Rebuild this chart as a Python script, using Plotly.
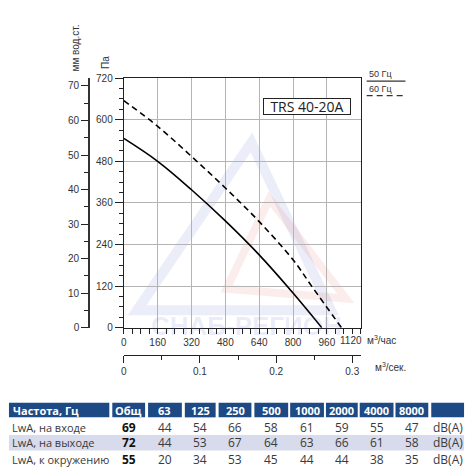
import plotly.graph_objects as go

W, H = 472, 476

# ---- data ----
flow_50 = [0, 160, 320, 480, 640, 800, 936]
pres_50 = [546, 480, 398, 308, 210, 100, 0]
flow_60 = [0, 160, 320, 480, 640, 800, 888, 1029]
pres_60 = [655, 581, 494, 403, 306, 196, 120, 0]

x_ticks = [0, 160, 320, 480, 640, 800, 960, 1120]
y_ticks = [0, 120, 240, 360, 480, 600, 720]
mm_ticks = [0, 10, 20, 30, 40, 50, 60, 70]
sec_ticks = [0, 0.1, 0.2, 0.3]

model = "TRS 40-20A"
tbl_header = ["Частота, Гц", "Общ", "63", "125", "250", "500", "1000", "2000", "4000", "8000", ""]
tbl_rows = ["LwA, на входе", "LwA, на выходе", "LwA, к окружению"]
tbl_total = [69, 72, 55]
tbl_vals = [
    [44, 54, 66, 58, 61, 59, 55, 47],
    [44, 53, 67, 64, 63, 66, 61, 58],
    [20, 34, 53, 45, 44, 44, 38, 35],
]
tbl_unit = "dB(A)"


def px(x):
    return x / W


def py(y):
    return 1 - y / H


X0, X1 = 121.6, 360.0
Y0, Y1 = 74.0, 330.0
FONT = "Liberation Sans, Arial, sans-serif"
TFONT = "Open Sans, sans-serif"
GRAY = "#333333"

fig = go.Figure()
fig.add_trace(go.Scatter(x=flow_50, y=pres_50, mode="lines",
                         line=dict(color="black", width=1.6, shape="spline", smoothing=1.0),
                         showlegend=False, hoverinfo="skip"))
fig.add_trace(go.Scatter(x=flow_60, y=pres_60, mode="lines",
                         line=dict(color="black", width=1.6, shape="spline", smoothing=1.0,
                                   dash="6px,4px"),
                         showlegend=False, hoverinfo="skip"))
# dummy traces for the secondary axes
fig.add_trace(go.Scatter(x=[0, 0.3], y=[None, None], xaxis="x2", yaxis="y", mode="lines",
                         showlegend=False, hoverinfo="skip"))
fig.add_trace(go.Scatter(x=[None, None], y=[0, 70], xaxis="x", yaxis="y2", mode="lines",
                         showlegend=False, hoverinfo="skip"))

mm_top = 70 * (Y1 - Y0) / (Y1 - 82.0)
x_ticktext = [str(v) for v in x_ticks[:-1]] + [""]

fig.update_layout(
    width=W, height=H, margin=dict(l=0, r=0, t=0, b=0),
    paper_bgcolor="white", plot_bgcolor="white",
    font=dict(family=FONT, size=10, color=GRAY),
    xaxis=dict(domain=[px(X0), px(X1)], range=[0, 1120], tickvals=x_ticks, ticktext=x_ticktext,
               showgrid=True, gridcolor="#b4b4b4", gridwidth=1.2,
               showline=True, linecolor="#222", linewidth=1.2, mirror=True,
               ticks="outside", ticklen=5, tickcolor="#222", tickwidth=1,
               minor=dict(dtick=40, ticks="outside", ticklen=5, tickcolor="#222", showgrid=False),
               zeroline=False, tickfont=dict(size=10, color=GRAY), fixedrange=True),
    yaxis=dict(domain=[py(Y1), py(Y0)], range=[0, 720], tickvals=y_ticks,
               showgrid=True, gridcolor="#b4b4b4", gridwidth=1.2,
               showline=True, linecolor="#222", linewidth=1.2, mirror=True,
               ticks="outside", ticklen=8, tickcolor="#222", tickwidth=1,
               minor=dict(dtick=30, ticks="outside", ticklen=4, tickcolor="#222", showgrid=False),
               zeroline=False, tickfont=dict(size=10, color=GRAY), fixedrange=True),
    xaxis2=dict(overlaying="x", anchor="free", position=py(358.5), range=[0, 1120 / 3600],
                tickvals=sec_ticks, ticktext=["0", "0.1", "0.2", "0.3"],
                showgrid=False, zeroline=False, showline=True, linecolor="#222", linewidth=1,
                ticks="outside", ticklen=7, tickcolor="#222",
                minor=dict(dtick=0.05, ticks="outside", ticklen=4, tickcolor="#222"),
                side="bottom", tickfont=dict(size=10, color=GRAY), fixedrange=True),
    yaxis2=dict(overlaying="y", anchor="free", position=px(86.5), range=[0, mm_top],
                tickvals=mm_ticks, showgrid=False, zeroline=False,
                showline=True, linecolor="#333", linewidth=1.5,
                ticks="outside", ticklen=7, tickcolor="#222",
                minor=dict(dtick=5, ticks="outside", ticklen=4, tickcolor="#222"),
                side="left", tickfont=dict(size=10, color=GRAY), fixedrange=True),
)

ann = []
shapes = []


def text(t, x, y, size=10, color=GRAY, family=FONT, xa="center", **kw):
    ann.append(dict(text=t, x=px(x), y=py(y), xref="paper", yref="paper", showarrow=False,
                    xanchor=xa, yanchor="middle", font=dict(size=size, color=color, family=family),
                    **kw))


# watermark
shapes.append(dict(type="path", xref="paper", yref="paper",
                   path=f"M {px(135)} {py(312)} L {px(250)} {py(140)} L {px(330)} {py(312)} Z",
                   line=dict(color="rgba(90,110,200,0.12)", width=10), layer="below"))
shapes.append(dict(type="path", xref="paper", yref="paper",
                   path=f"M {px(225)} {py(290)} L {px(268)} {py(198)} L {px(345)} {py(300)} Z",
                   line=dict(color="rgba(230,80,80,0.10)", width=8), layer="below"))
text("<b>СНАБ-РЕГИОН</b>", 245, 328, size=26, color="rgba(90,110,210,0.13)")

# axis titles / units
text("Па", 103, 58, textangle=-90)
text("мм вод.ст.", 73, 43, textangle=-90)
text(str(x_ticks[-1]), 350.5, 343)
text("м<sup>3</sup>/час", 364, 343, xa="left")
text("м<sup>3</sup>/сек.", 372, 370, xa="left")

# model box
text(model, 305.5, 103.5, size=14, color="#222", family=TFONT, bgcolor="white",
     bordercolor="#222", borderwidth=1, borderpad=0, width=86, height=15)

# legend
text("50 Гц", 366, 70, size=9, xa="left")
text("60 Гц", 366, 85, size=9, xa="left")
shapes.append(dict(type="line", xref="paper", yref="paper", x0=px(366), x1=px(405),
                   y0=py(77), y1=py(77), line=dict(color="#333", width=1.2)))
shapes.append(dict(type="line", xref="paper", yref="paper", x0=px(366), x1=px(405),
                   y0=py(92), y1=py(92), line=dict(color="#333", width=1.2, dash="6px,4px")))

# table
col_edges = [(6, 107), (110, 143), (146, 180), (183, 214), (217, 250), (253, 287),
             (289, 323), (325, 357), (359, 393), (395, 428), (431, 464)]
HEAD = "#1d4a85"
hy0, hy1 = 407, 422
for (a, b), txt in zip(col_edges, tbl_header):
    shapes.append(dict(type="rect", xref="paper", yref="paper", x0=px(a), x1=px(b),
                       y0=py(hy1), y1=py(hy0), fillcolor=HEAD, line=dict(width=0),
                       layer="below"))
    if txt:
        if a == 6:
            text(f"<b>{txt}</b>", a + 2, (hy0 + hy1) / 2 + 0.5, size=11, color="white",
                 family=TFONT, xa="left")
        else:
            text(f"<b>{txt}</b>", (a + b) / 2, (hy0 + hy1) / 2 + 0.5, size=11, color="white",
                 family=TFONT)

row_y = [432, 448, 465]
shapes.append(dict(type="rect", xref="paper", yref="paper", x0=px(6), x1=px(464),
                   y0=py(456), y1=py(440), fillcolor="#d8dbec", line=dict(width=0), layer="below"))
for r, label in enumerate(tbl_rows):
    yy = row_y[r]
    text(label, 7, yy, size=11, color="#3a3a3a", family=TFONT, xa="left")
    a, b = col_edges[1]
    text(f"<b>{tbl_total[r]}</b>", (a + b) / 2, yy, size=12, color="#111", family=TFONT)
    for c, v in enumerate(tbl_vals[r]):
        a, b = col_edges[c + 2]
        text(str(v), (a + b) / 2, yy, size=12, color="#3a3a3a", family=TFONT)
    a, b = col_edges[10]
    text(tbl_unit, (a + b) / 2, yy, size=12, color="#3a3a3a", family=TFONT)

fig.update_layout(annotations=ann, shapes=shapes)
fig.write_html("out.html")
